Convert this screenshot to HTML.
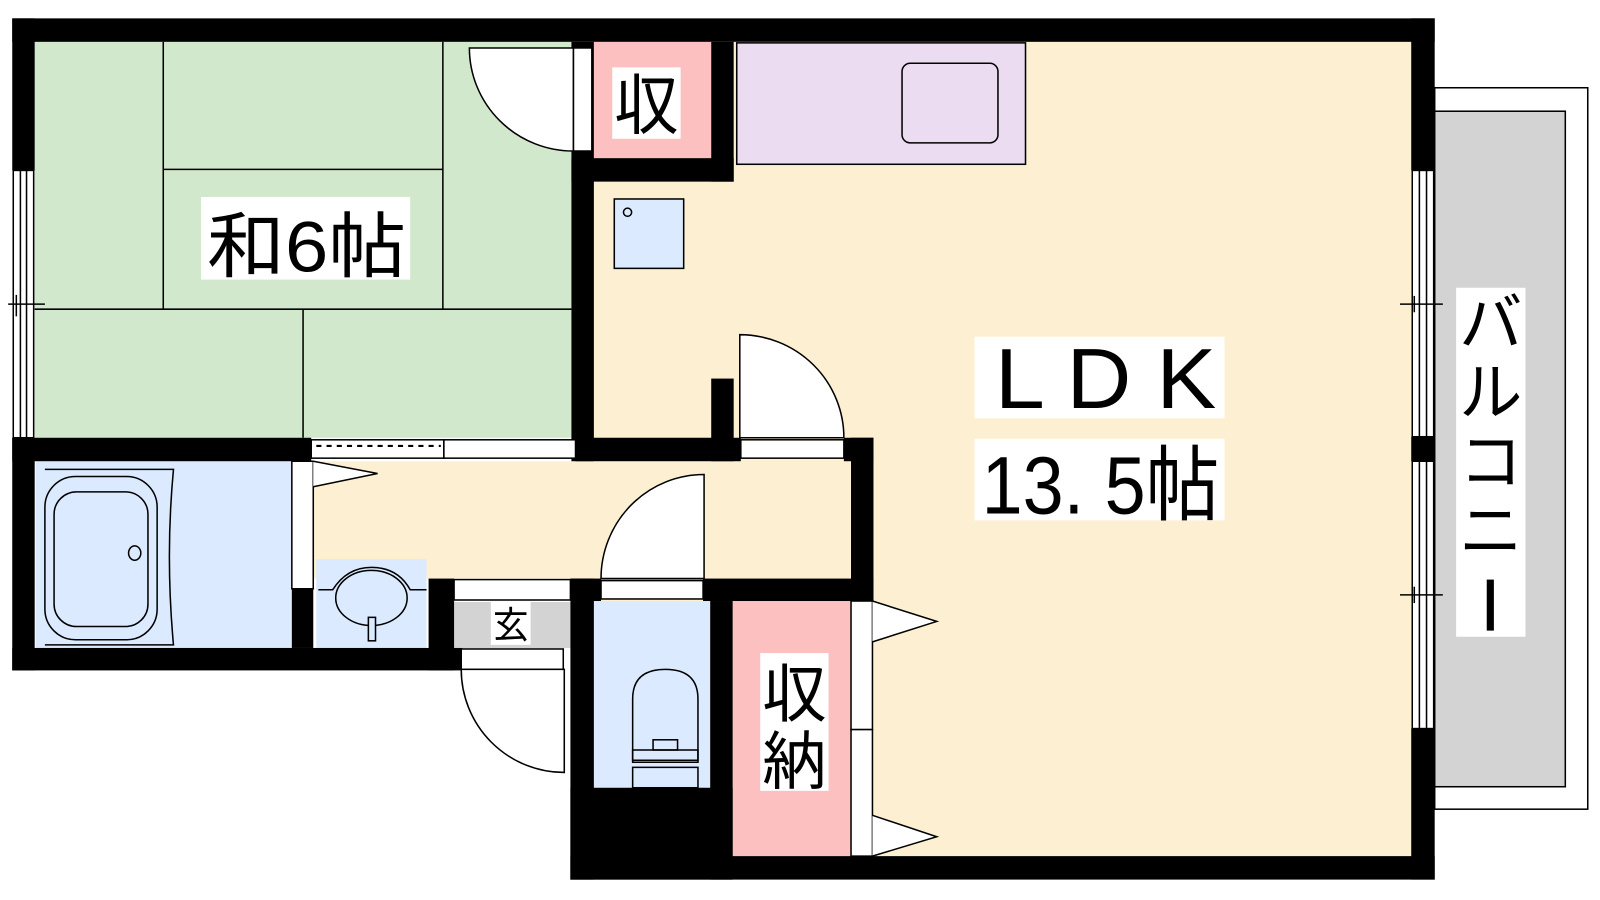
<!DOCTYPE html>
<html><head><meta charset="utf-8"><style>html,body{margin:0;padding:0;background:#fff;overflow:hidden}svg{display:block}</style></head>
<body>
<svg width="1600" height="900" viewBox="0 0 1568 882" preserveAspectRatio="none" xmlns="http://www.w3.org/2000/svg" font-family="'Liberation Sans','Noto Sans CJK JP',sans-serif">
<rect width="1568" height="882" fill="#fff"/>
<!-- fills -->
<rect x="34" y="41" width="526" height="388" fill="#d2e8cc"/>
<rect x="582" y="41" width="801" height="798" fill="#fdf0d2"/>
<rect x="307" y="452" width="527" height="115" fill="#fdf0d2"/>
<rect x="582" y="41" width="115" height="114" fill="#fdc0c0"/>
<rect x="722" y="42" width="283" height="119" fill="#ecdcf2" stroke="#000" stroke-width="1.5"/>
<rect x="884" y="62" width="94" height="78" rx="8" fill="none" stroke="#000" stroke-width="1.5"/>
<rect x="602" y="195" width="68" height="68" fill="#dbeaff" stroke="#000" stroke-width="1.5"/>
<circle cx="615" cy="208" r="4" fill="none" stroke="#000" stroke-width="1.5"/>
<rect x="35" y="452" width="251" height="183" fill="#dbeaff"/>
<rect x="310" y="548" width="108" height="87" fill="#dbeaff"/>
<rect x="445" y="590" width="114" height="45" fill="#d3d3d3"/>
<rect x="582" y="589" width="114" height="183" fill="#dbeaff"/>
<rect x="718" y="589" width="116" height="250" fill="#fdc0c0"/>
<!-- tatami lines -->
<g stroke="#000" stroke-width="1.5">
<line x1="160" y1="41" x2="160" y2="303"/><line x1="434" y1="41" x2="434" y2="303"/>
<line x1="160" y1="166" x2="434" y2="166"/><line x1="34" y1="303" x2="560" y2="303"/>
<line x1="297" y1="303" x2="297" y2="429"/>
</g>
<!-- balcony -->
<rect x="1406" y="86" width="150" height="707" fill="#fff" stroke="#000" stroke-width="1.5"/>
<rect x="1406" y="109" width="128" height="662" fill="#d3d3d3" stroke="#000" stroke-width="1.5"/>
<!-- walls -->
<g fill="#000">
<rect x="12" y="18" width="1394" height="23"/>
<rect x="12" y="18" width="22" height="149"/>
<rect x="12" y="429" width="22" height="228"/>
<rect x="1383" y="18" width="23" height="149"/>
<rect x="1383" y="428" width="23" height="24"/>
<rect x="1383" y="714" width="23" height="148"/>
<rect x="560" y="41" width="22" height="411"/>
<rect x="560" y="155" width="159" height="23"/>
<rect x="697" y="41" width="22" height="137"/>
<rect x="12" y="429" width="293" height="23"/>
<rect x="564" y="429" width="162" height="23"/>
<rect x="697" y="371" width="22" height="81"/>
<rect x="827" y="429" width="29" height="23"/>
<rect x="834" y="429" width="22" height="160"/>
<rect x="286" y="577" width="21" height="58"/>
<rect x="12" y="635" width="441" height="22"/>
<rect x="420" y="567" width="25" height="90"/>
<rect x="559" y="567" width="30" height="22"/>
<rect x="689" y="567" width="167" height="22"/>
<rect x="559" y="567" width="23" height="295"/>
<rect x="696" y="589" width="22" height="273"/>
<rect x="559" y="772" width="159" height="90"/>
<rect x="559" y="839" width="847" height="23"/>
</g>
<!-- windows -->
<g fill="#fff" stroke="#000" stroke-width="1.5">
<rect x="13" y="167" width="20" height="262"/>
<rect x="1384" y="167" width="21" height="261"/>
<rect x="1384" y="452" width="21" height="262"/>
</g>
<g stroke="#000" stroke-width="1.5">
<line x1="20" y1="167" x2="20" y2="429"/><line x1="26" y1="167" x2="26" y2="429"/>
<line x1="8" y1="298" x2="44" y2="298"/><line x1="16" y1="289" x2="16" y2="310"/>
<line x1="1391" y1="167" x2="1391" y2="428"/><line x1="1398" y1="167" x2="1398" y2="428"/>
<line x1="1391" y1="452" x2="1391" y2="714"/><line x1="1398" y1="452" x2="1398" y2="714"/>
<line x1="1372" y1="298" x2="1414" y2="298"/><line x1="1386" y1="290" x2="1386" y2="306"/>
<line x1="1372" y1="583" x2="1414" y2="583"/><line x1="1386" y1="575" x2="1386" y2="591"/>
</g>
<!-- doors -->
<g fill="#fff" stroke="#000" stroke-width="1.5">
<path d="M562 47 L460 47 A102 101 0 0 0 562 148 Z"/>
<rect x="562" y="47" width="18" height="101"/>
<rect x="305" y="431" width="130" height="18"/>
<rect x="435" y="431" width="129" height="18"/>
<path d="M725 429 L725 328 A102 101 0 0 1 827 429 Z"/>
<rect x="726" y="431" width="101" height="18"/>
<rect x="286" y="452" width="21" height="125"/>
<path d="M307 452 L370 464 L307 477"/>
<path d="M690 567 L690 465 A101 102 0 0 0 589 567 Z"/>
<rect x="589" y="569" width="100" height="18"/>
<rect x="445" y="568" width="114" height="20"/>
<rect x="452" y="636" width="100" height="20"/>
<path d="M553 656 L553 757 A101 101 0 0 1 452 656 Z"/>
<rect x="834" y="589" width="21" height="126"/>
<rect x="834" y="715" width="21" height="124"/>
<path d="M855 589 L918 609 L855 629"/>
<path d="M855 799 L918 820 L855 839"/>
</g>
<line x1="310" y1="437" x2="432" y2="437" stroke="#000" stroke-width="2" stroke-dasharray="5,5"/>
<!-- bath -->
<g fill="none" stroke="#000" stroke-width="1.5">
<path d="M44 460 H170 Q162 545 170 632 H44"/>
<rect x="44" y="467" width="110" height="160" rx="30"/>
<rect x="53" y="482" width="92" height="132" rx="22"/>
<ellipse cx="132" cy="542" rx="6" ry="7"/>
<path d="M312 578 H326 Q340 556 364 556 Q390 556 402 578 H418"/>
<ellipse cx="364" cy="586" rx="35" ry="27"/>
<rect x="361" y="605" width="7" height="23" fill="#dbeaff"/>
<path d="M620 745 V685 Q620 656 652 656 Q684 656 684 685 V745 Z"/>
<rect x="620" y="735" width="64" height="12"/>
<rect x="620" y="752" width="64" height="20"/>
<rect x="640" y="725" width="24" height="10"/>
</g>
<!-- labels -->
<g fill="#fff">
<rect x="197" y="193" width="205" height="81"/>
<rect x="600" y="66" width="67" height="70"/>
<rect x="955" y="330" width="245" height="80"/>
<rect x="955" y="430" width="245" height="80"/>
<rect x="745" y="640" width="67" height="135"/>
<rect x="481" y="590" width="39" height="42"/>
<rect x="1427" y="282" width="68" height="342"/>
</g>
<g fill="#000">
<text x="203" y="266" font-size="70" textLength="195" lengthAdjust="spacingAndGlyphs">和6帖</text>
<text x="602" y="126" font-size="64" textLength="63" lengthAdjust="spacingAndGlyphs">収</text>
<text x="975" y="400" font-size="84" textLength="217" lengthAdjust="spacingAndGlyphs">L D K</text>
<text x="962" y="503" font-size="80" textLength="233" lengthAdjust="spacingAndGlyphs">13. 5帖</text>
<text x="747" y="702" font-size="62" textLength="63" lengthAdjust="spacingAndGlyphs">収</text>
<text x="747" y="768" font-size="62" textLength="63" lengthAdjust="spacingAndGlyphs">納</text>
<text x="483" y="625" font-size="36" textLength="35" lengthAdjust="spacingAndGlyphs">玄</text>
<g font-size="62" text-anchor="middle">
<text x="1461" y="338">バ</text>
<text x="1461" y="406">ル</text>
<text x="1461" y="474">コ</text>
<text x="1461" y="542">ニ</text>
<text x="1461" y="610" font-size="0"></text>
</g>
<rect x="1457" y="568" width="7" height="50"/>
</g>
</svg>
</body></html>
